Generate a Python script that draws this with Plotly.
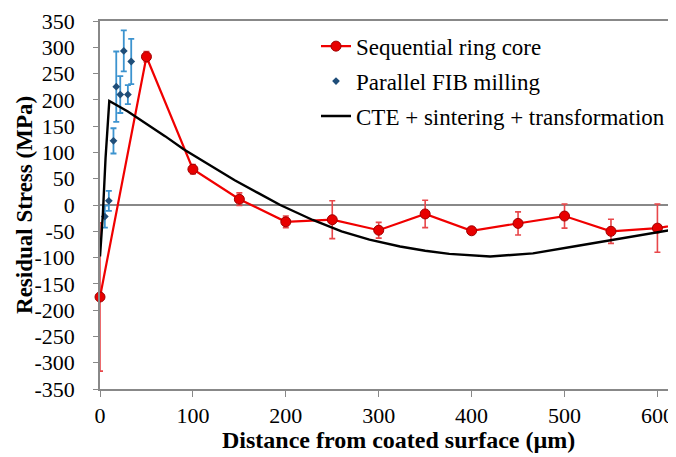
import plotly.graph_objects as go

# Sequential ring core (red)
ring_x = [0, 50, 100, 150, 200, 250, 300, 350, 400, 450, 500, 550, 600, 650]
ring_y = [-175, 282, 68, 11, -32, -28, -48, -17, -49, -35, -21, -50, -44, -29]
ring_err = [141, 10, 9, 12, 11, 36, 15, 26, 4, 22, 23, 23, 46, 20]

# Parallel FIB milling (blue)
fib_x = [5.2, 9.5, 14.5, 17.5, 21.8, 25.6, 30.0, 33.6]
fib_y = [-22, 8, 122, 225, 210, 293, 210, 273]
fib_err = [21, 19, 24, 67, 35, 39, 18, 43]

# CTE + sintering + transformation model (black)
cte_x = [0, 3, 6, 10, 30, 50, 70, 90, 120, 145, 170, 194, 229, 260, 290, 323,
         350, 376, 420, 466, 513, 553, 590, 620]
cte_y = [-98, -20, 90, 198, 178, 155, 131, 106, 74, 47, 23, 0, -28.5, -50, -66,
         -79, -87, -93, -98, -92, -78, -66, -55, -46]

x_ticks = [0, 100, 200, 300, 400, 500, 600]
y_ticks = [350, 300, 250, 200, 150, 100, 50, 0, -50, -100, -150, -200, -250, -300, -350]
y_tick_labels = ["350", "300", "250", "200", "150", "100", "50", "0", "-50", "-100",
                 "-150", "-200", "-250", "-300", "-350"]

FONT = "Liberation Serif"
TF = dict(family=FONT, size=23, color="black")
TICKF = dict(family=FONT, size=22, color="black")

fig = go.Figure()

fig.add_trace(go.Scatter(
    x=ring_x, y=ring_y, mode="lines+markers", name="Sequential ring core",
    line=dict(color="#f00000", width=2.2),
    marker=dict(color="#e80000", size=10, line=dict(color="#a00000", width=1)),
    error_y=dict(type="data", array=ring_err, color="#e8474a", thickness=1.6, width=3),
    cliponaxis=False, legendgroup="a",
))

fig.add_trace(go.Scatter(
    x=fib_x, y=fib_y, mode="markers", name="Parallel FIB milling",
    marker=dict(color="#1f4e79", size=6, symbol="diamond"),
    error_y=dict(type="data", array=fib_err, color="#3c93cf", thickness=1.8, width=3),
    cliponaxis=False, legendgroup="b",
))

fig.add_trace(go.Scatter(
    x=cte_x, y=cte_y, mode="lines", name="CTE + sintering + transformation",
    line=dict(color="black", width=2.4), legendgroup="c",
))

# page has an 8px body margin; compensate in the figure size/margins
fig.update_layout(
    width=668, height=449,
    margin=dict(l=92, r=0, t=13, b=68, autoexpand=False),
    plot_bgcolor="white", paper_bgcolor="white",
    font=TF,
    showlegend=True,
    legend=dict(x=0.375, y=0.99, xanchor="left", yanchor="top",
                bgcolor="rgba(0,0,0,0)", font=TF,
                tracegroupgap=2, itemwidth=30),
    xaxis=dict(
        range=[0, 620], tickvals=x_ticks, ticks="outside", ticklen=6,
        tickcolor="#888888", showline=True, linecolor="#888888", linewidth=1.5,
        mirror=True, showgrid=False, zeroline=False, automargin=False,
        ticklabelstandoff=0, tickfont=TICKF,
    ),
    yaxis=dict(
        range=[-350, 350], tickvals=y_ticks, ticktext=y_tick_labels,
        ticks="outside", ticklen=5,
        tickcolor="#888888", showline=True, linecolor="#888888", linewidth=1.5,
        showgrid=False, zeroline=True, zerolinecolor="#888888", zerolinewidth=1.5,
        automargin=False, ticklabelstandoff=14, tickfont=TICKF,
    ),
    annotations=[
        dict(text="<b>Distance from coated surface (µm)</b>", xref="paper", yref="paper",
             x=0.518, y=-0.139, xanchor="center", yanchor="middle", showarrow=False,
             font=dict(family=FONT, size=24, color="black")),
        dict(text="<b>Residual Stress (MPa)</b>", xref="paper", yref="paper",
             x=-0.132, y=0.5, xanchor="center", yanchor="middle", showarrow=False,
             textangle=-90, font=dict(family=FONT, size=23, color="black")),
    ],
)

fig.write_html("out.html")
